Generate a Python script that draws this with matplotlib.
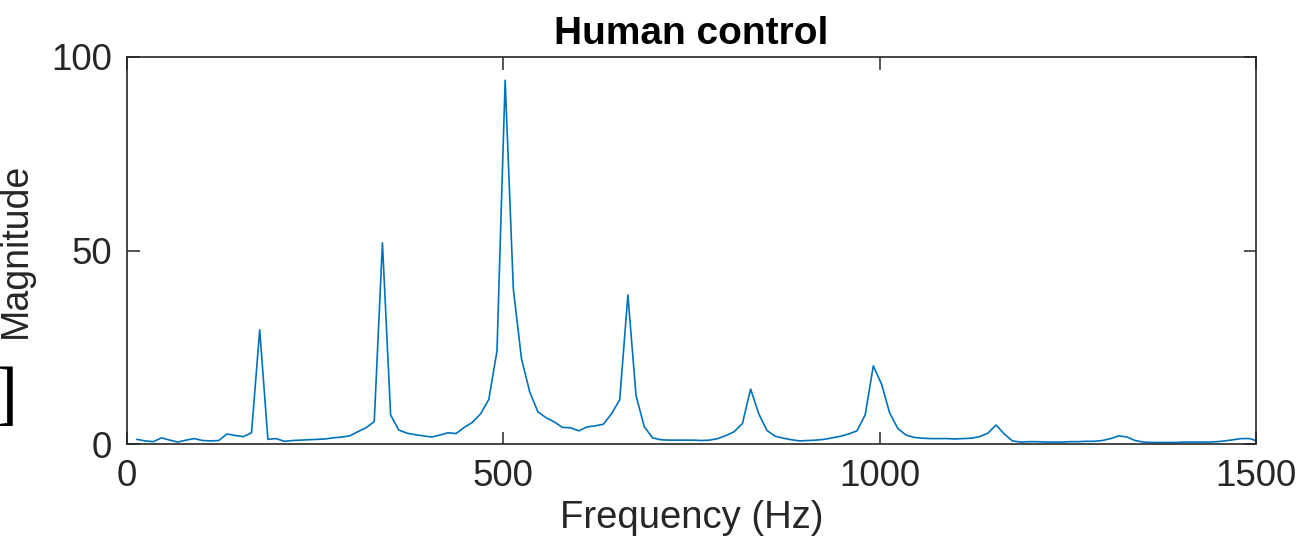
import numpy as np
import matplotlib
matplotlib.use("Agg")
import matplotlib.pyplot as plt

plt.rcParams['font.family'] = ['Liberation Sans', 'DejaVu Sans']

# FFT bins: frequency = offset + bin * resolution
bin_index = np.arange(1, 139)
freq_offset = 2.4
freq_res = 10.87

# magnitude per bin
magnitude = [
    1.2, 0.8, 0.6, 1.6, 1.0, 0.5, 1.0, 1.4, 0.9, 0.8,      # 1-10
    0.9, 2.6, 2.2, 1.9, 2.9, 29.5, 1.2, 1.4, 0.7, 0.9,     # 11-20
    1.0, 1.1, 1.2, 1.3, 1.6, 1.8, 2.1, 3.2, 4.2, 5.8,      # 21-30
    52.0, 7.5, 3.6, 2.8, 2.4, 2.1, 1.8, 2.3, 2.9, 2.7,     # 31-40
    4.3, 5.6, 7.8, 11.5, 24.0, 94.0, 40.0, 22.0, 13.5, 8.3, # 41-50
    6.8, 5.7, 4.3, 4.2, 3.4, 4.4, 4.7, 5.1, 7.8, 11.4,     # 51-60
    38.5, 12.5, 4.5, 1.6, 1.1, 1.0, 1.0, 1.0, 1.0, 0.9,    # 61-70
    1.0, 1.4, 2.2, 3.2, 5.3, 14.2, 7.8, 3.5, 2.0, 1.5,     # 71-80
    1.1, 0.8, 0.9, 1.0, 1.2, 1.6, 2.0, 2.6, 3.4, 7.5,      # 81-90
    20.2, 15.5, 8.0, 4.0, 2.3, 1.7, 1.5, 1.4, 1.4, 1.4,    # 91-100
    1.3, 1.4, 1.5, 1.9, 2.8, 4.9, 2.6, 0.8, 0.5, 0.6,      # 101-110
    0.6, 0.5, 0.5, 0.5, 0.6, 0.6, 0.7, 0.7, 0.9, 1.4,      # 111-120
    2.1, 1.8, 0.9, 0.5, 0.4, 0.4, 0.4, 0.4, 0.5, 0.5,      # 121-130
    0.5, 0.5, 0.6, 0.8, 1.1, 1.4, 1.4, 0.7,                # 131-138
]
freq = freq_offset + bin_index * freq_res

x_ticks = [0, 500, 1000, 1500]
y_ticks = [0, 50, 100]

fig = plt.figure(figsize=(13.01, 5.53), dpi=100)
ax = fig.add_axes([127 / 1301, 1 - 444 / 553, (1256 - 127) / 1301, (444 - 57) / 553])

ax.plot(freq, magnitude, color='#0072BD', lw=1.2)

ax.set_xlim(0, 1500)
ax.set_ylim(0, 100)
ax.set_xticks(x_ticks)
ax.set_yticks(y_ticks)

ax.tick_params(direction='in', length=9, width=1.1, colors='#262626',
               labelsize=26.5, top=True, right=True, pad=11)
for s in ax.spines.values():
    s.set_color('#262626')
    s.set_linewidth(1.2)

ax.set_xlabel('Frequency (Hz)', fontsize=27.5, color='#262626', labelpad=4)
ax.set_ylabel('Magnitude', fontsize=27, color='#262626', labelpad=12)
ax.set_title('Human control', fontsize=28, fontweight='bold', pad=9)

# stray bracket from the surrounding page, cut at the left edge
fig.text(17 / 1301, 1 - 398 / 553, ']', family='Liberation Serif', fontsize=52,
         ha='right', va='center')

fig.savefig('out.png', dpi=100)
